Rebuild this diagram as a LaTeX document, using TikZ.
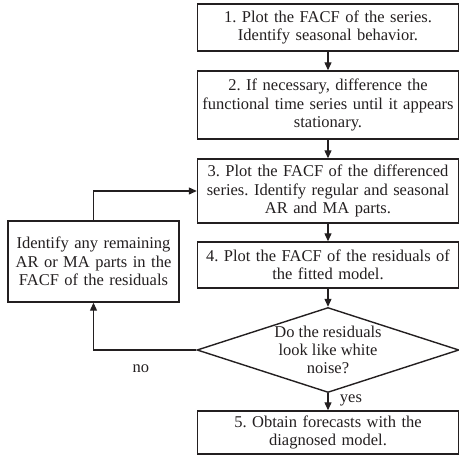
\documentclass[tikz,border=0pt]{standalone}
\usepackage{fontspec}
\setmainfont{Liberation Serif}
\usetikzlibrary{
    arrows.meta,      % 箭头
    shapes.geometric, % 菱形判断框
    positioning
}
\definecolor{ink}{RGB}{35,31,32}
\frenchspacing

\begin{document}
\begin{tikzpicture}[
    >={Triangle[width=7pt,length=8pt]},
    x=1pt, y=-1pt,
    font=\fontsize{16.5}{18.3}\selectfont,
    box/.style={draw=ink, line width=1.4pt, align=center, text=ink, inner sep=2pt},
    link/.style={draw=ink, line width=1.2pt, ->}
]
    \useasboundingbox (0,0) rectangle (459,455);

    % 右侧主流程
    \node[box, text width=257pt, minimum height=47pt] (plot) at (328,27.5)
        {1. Plot the FACF of the series.\\Identify seasonal behavior.};
    \node[box, text width=257pt, minimum height=68pt] (diff) at (328,105)
        {2. If necessary, difference the\\functional time series until it appears\\stationary.};
    \node[box, text width=257pt, minimum height=64pt] (ident) at (328,191)
        {3. Plot the FACF of the differenced\\series. Identify regular and seasonal\\AR and MA parts.};
    \node[box, text width=257pt, minimum height=46pt] (resid) at (328,265)
        {4. Plot the FACF of the residuals of\\the fitted model.};

    % 判断框
    \node[box, shape=diamond, aspect=3.08, inner sep=-12pt,
          minimum width=262pt, minimum height=85pt] (check) at (328,350)
        {Do the residuals\\look like white\\noise?};

    \node[box, text width=257pt, minimum height=43pt] (forecast) at (328,432.5)
        {5. Obtain forecasts with the\\diagnosed model.};

    % 左侧回路
    \node[box, text width=167pt, minimum height=81pt] (fix) at (93.5,261.5)
        {Identify any remaining\\AR or MA parts in the\\FACF of the residuals};

    % 箭头与标签
    \draw[link] (plot) -- (diff);
    \draw[link] (diff) -- (ident);
    \draw[link] (ident) -- (resid);
    \draw[link] (resid) -- (check);
    \draw[link] (check) -- node[pos=0.4, right=8pt, text=ink] {yes} (forecast);
    \draw[link] (check) -| node[pos=0.27, below=11pt, text=ink] {no} (fix);
    \draw[link] (fix) |- (ident);
\end{tikzpicture}
\end{document}
